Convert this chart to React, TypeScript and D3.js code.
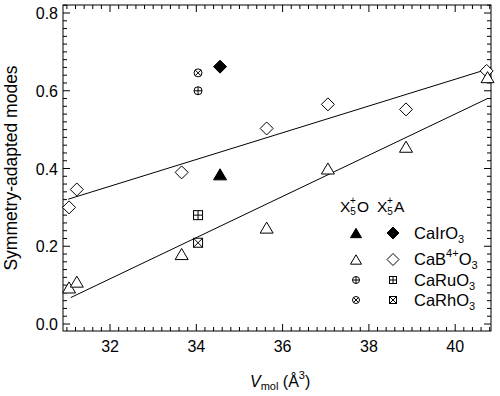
import React from "react";
import * as d3 from "d3";

// Data
const upperX = [31.05, 31.23, 33.66, 35.63, 37.05, 38.86, 40.73];
const upperY = [0.300, 0.346, 0.390, 0.503, 0.565, 0.552, 0.651];
const lowerX = [31.05, 31.23, 33.66, 35.63, 37.05, 38.86, 40.75];
const lowerY = [0.094, 0.109, 0.180, 0.248, 0.400, 0.456, 0.635];
const irX = [34.55];
const irOY = [0.385];
const irAY = [0.662];
const ruRhX = [34.04];
const ruOY = [0.600];
const rhOY = [0.646];
const ruAY = [0.280];
const rhAY = [0.209];
const fitUpper = [[31.03, 0.321], [40.65, 0.652]];
const fitLower = [[31.09, 0.068], [40.75, 0.580]];
const xTicks = [32, 34, 36, 38, 40];
const yTicks = [0.0, 0.2, 0.4, 0.6, 0.8];
const legendLabels = ["CaIrO", "CaB", "CaRuO", "CaRhO"];

const W = 500, H = 396;
const L = 63, R = 491, T = 5, B = 331;
const FONT = "'Liberation Sans', Arial, sans-serif";

type Shape = "tri" | "dia" | "cplus" | "ccross" | "splus" | "scross";

function Marker({ shape, x, y, s, filled }: { shape: Shape; x: number; y: number; s: number; filled?: boolean }) {
  const fill = filled ? "#000" : "#fff";
  const sw = 1;
  if (shape === "tri") {
    const h = s * 1.7, w = s;
    return <path d={`M${x},${y - h / 2}L${x + w},${y + h / 2}L${x - w},${y + h / 2}Z`} fill={fill} stroke="#000" strokeWidth={sw} strokeLinejoin="miter" />;
  }
  if (shape === "dia") {
    return <path d={`M${x},${y - s}L${x + s},${y}L${x},${y + s}L${x - s},${y}Z`} fill={fill} stroke="#000" strokeWidth={sw} />;
  }
  if (shape === "cplus" || shape === "ccross") {
    const r = s, a = shape === "cplus" ? r : r * 0.707;
    const d = shape === "cplus"
      ? `M${x - a},${y}L${x + a},${y}M${x},${y - a}L${x},${y + a}`
      : `M${x - a},${y - a}L${x + a},${y + a}M${x - a},${y + a}L${x + a},${y - a}`;
    return <g><circle cx={x} cy={y} r={r} fill="#fff" stroke="#000" strokeWidth={sw} /><path d={d} stroke="#000" strokeWidth={sw} /></g>;
  }
  const a = s;
  const d = shape === "splus"
    ? `M${x - a},${y}L${x + a},${y}M${x},${y - a}L${x},${y + a}`
    : `M${x - a},${y - a}L${x + a},${y + a}M${x - a},${y + a}L${x + a},${y - a}`;
  return <g><rect x={x - a} y={y - a} width={2 * a} height={2 * a} fill="#fff" stroke="#000" strokeWidth={sw} /><path d={d} stroke="#000" strokeWidth={sw} /></g>;
}

export default function App() {
  const x = d3.scaleLinear().domain([30.91, 40.83]).range([L, R]);
  const y = d3.scaleLinear().domain([-0.018, 0.8206]).range([B, T]);
  const xMinor = d3.range(31, 40.81, 0.2);
  const yMinor = d3.range(0, 0.821, 0.02);
  const line = d3.line<number[]>().x(d => x(d[0])).y(d => y(d[1]));

  const legendRows = [
    { o: "tri" as Shape, of: true, a: "dia" as Shape, af: true, y: 233, so: 5.5, sa: 6 },
    { o: "tri" as Shape, of: false, a: "dia" as Shape, af: false, y: 259.5, so: 5.5, sa: 6 },
    { o: "cplus" as Shape, of: false, a: "splus" as Shape, af: false, y: 280, so: 3.5, sa: 3.5 },
    { o: "ccross" as Shape, of: false, a: "scross" as Shape, af: false, y: 300, so: 3.5, sa: 3.5 },
  ];

  return (
    <svg width={W} height={H} style={{ display: "block", position: "absolute", left: 0, top: 0 }} fontFamily={FONT}>
      <rect width={W} height={H} fill="#fff" />
      {/* fit lines */}
      <path d={line(fitUpper) || ""} fill="none" stroke="#000" strokeWidth={1} />
      <path d={line(fitLower) || ""} fill="none" stroke="#000" strokeWidth={1} />
      {/* ticks */}
      {xMinor.map((v, i) => {
        const major = xTicks.some(t => Math.abs(t - v) < 1e-6);
        const len = major ? 7 : 4;
        return <g key={"xm" + i}>
          <line x1={x(v)} x2={x(v)} y1={B} y2={B - len} stroke="#000" strokeWidth={1} />
          <line x1={x(v)} x2={x(v)} y1={T} y2={T + len} stroke="#000" strokeWidth={1} />
        </g>;
      })}
      {yMinor.map((v, i) => {
        const major = yTicks.some(t => Math.abs(t - v) < 1e-6);
        const len = major ? 7 : 4;
        return <g key={"ym" + i}>
          <line x1={L} x2={L + len} y1={y(v)} y2={y(v)} stroke="#000" strokeWidth={1} />
          <line x1={R} x2={R - len} y1={y(v)} y2={y(v)} stroke="#000" strokeWidth={1} />
        </g>;
      })}
      <rect x={L} y={T} width={R - L} height={B - T} fill="none" stroke="#000" strokeWidth={1} />
      {/* tick labels */}
      {xTicks.map(t => <text key={"xt" + t} x={x(t)} y={352} textAnchor="middle" fontSize={16}>{t}</text>)}
      {yTicks.map(t => <text key={"yt" + t} x={58} y={y(t) + 6} textAnchor="end" fontSize={16}>{t.toFixed(1)}</text>)}
      {/* axis titles */}
      <text transform={`translate(17,${(T + B) / 2}) rotate(-90)`} textAnchor="middle" fontSize={17.5}>Symmetry-adapted modes</text>
      <text x={250} y={387} fontSize={16}>
        <tspan fontStyle="italic">V</tspan><tspan fontSize={11} dy={3}>mol</tspan><tspan dy={-3}> (Å</tspan><tspan fontSize={11} dy={-8}>3</tspan><tspan dy={8}>)</tspan>
      </text>
      {/* data */}
      {upperX.map((v, i) => <Marker key={"u" + i} shape="dia" x={x(v)} y={y(upperY[i])} s={6.5} />)}
      {lowerX.map((v, i) => <Marker key={"l" + i} shape="tri" x={x(v)} y={y(lowerY[i])} s={6.5} />)}
      {irX.map((v, i) => <Marker key={"io" + i} shape="tri" filled x={x(v)} y={y(irOY[i])} s={6.5} />)}
      {irX.map((v, i) => <Marker key={"ia" + i} shape="dia" filled x={x(v)} y={y(irAY[i])} s={6.5} />)}
      {ruRhX.map((v, i) => <Marker key={"ro" + i} shape="cplus" x={x(v)} y={y(ruOY[i])} s={4} />)}
      {ruRhX.map((v, i) => <Marker key={"rho" + i} shape="ccross" x={x(v)} y={y(rhOY[i])} s={4} />)}
      {ruRhX.map((v, i) => <Marker key={"ra" + i} shape="splus" x={x(v)} y={y(ruAY[i])} s={4.5} />)}
      {ruRhX.map((v, i) => <Marker key={"rha" + i} shape="scross" x={x(v)} y={y(rhAY[i])} s={4.5} />)}
      {/* legend header */}
      <text x={340} y={212} fontSize={15.5}>
        X<tspan fontSize={10} dy={3}>5</tspan><tspan fontSize={10} dx={-5.8} dy={-11}>+</tspan><tspan dy={8} dx={1}>O</tspan>
      </text>
      <text x={377} y={212} fontSize={15.5}>
        X<tspan fontSize={10} dy={3}>5</tspan><tspan fontSize={10} dx={-5.8} dy={-11}>+</tspan><tspan dy={8} dx={1}>A</tspan>
      </text>
      {legendRows.map((r, i) => (
        <g key={"lg" + i}>
          <Marker shape={r.o} filled={r.of} x={356} y={r.y} s={r.so} />
          <Marker shape={r.a} filled={r.af} x={393} y={r.y} s={r.sa} />
          <text x={414} y={r.y + 5.5} fontSize={16.5}>
            {legendLabels[i]}
            {i === 1
              ? <><tspan fontSize={11} dy={-8}>4+</tspan><tspan dy={8}>O</tspan><tspan fontSize={11} dy={4}>3</tspan></>
              : <tspan fontSize={11} dy={4}>3</tspan>}
          </text>
        </g>
      ))}
    </svg>
  );
}
